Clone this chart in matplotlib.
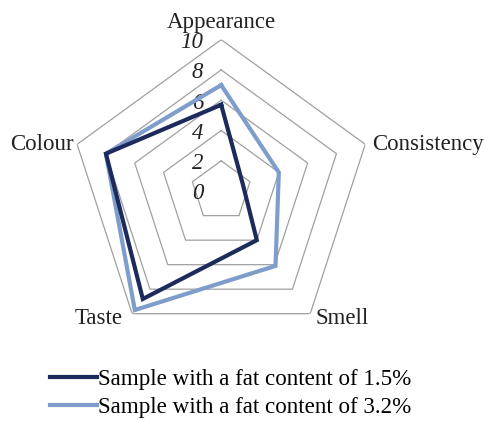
import numpy as np
import matplotlib.pyplot as plt

plt.rcParams['font.family'] = ['Liberation Serif', 'DejaVu Serif']

# sensory attributes, clockwise from the top
categories = ['Appearance', 'Consistency', 'Smell', 'Taste', 'Colour']
fat_15 = [5.7, 1.5, 4.0, 8.8, 8.0]
fat_32 = [7.0, 4.0, 6.1, 9.7, 8.0]
series_names = ['Sample with a fat content of 1.5%',
                'Sample with a fat content of 3.2%']
ring_values = [0, 2, 4, 6, 8, 10]

n = len(categories)
theta = np.linspace(0, 2*np.pi, n, endpoint=False)
theta_closed = np.append(theta, theta[0])


def closed(values):
    return np.append(values, values[0])


fig = plt.figure(figsize=(4.84, 4.21), dpi=100)
ax = fig.add_axes([0.144, 0.186, 0.626, 0.72], projection='polar')
ax.set_theta_offset(np.pi/2)
ax.set_theta_direction(-1)
ax.set_ylim(0, 10)
ax.set_xticks([])
ax.set_yticks([])
ax.grid(False)
ax.spines['polar'].set_visible(False)
ax.patch.set_visible(False)

# pentagon rings
for r in ring_values[1:]:
    ax.plot(theta_closed, [r]*(n+1), color='#a0a0a0', lw=0.9, zorder=1)

# value labels along the top axis
for r in ring_values:
    ax.annotate(str(r), xy=(0, r), xytext=(-13, -2), textcoords='offset points',
                ha='right', va='center', fontsize=16.5, style='italic',
                color='#222222')

p2, = ax.plot(theta_closed, closed(fat_32), color='#7f9dcb', lw=3,
              solid_joinstyle='miter', zorder=3)
p1, = ax.plot(theta_closed, closed(fat_15), color='#1c2a5c', lw=3,
              solid_joinstyle='miter', zorder=4)

# category labels, offset (points) from the outer ring's corners
label_pos = [((0, 8.6), 'center', 'baseline'),
             ((4.6, 0), 'left', 'center'),
             ((3.6, -3.6), 'left', 'center'),
             ((-7.2, -3.6), 'right', 'center'),
             ((-2.2, 0), 'right', 'center')]
for t, name, (off, ha, va) in zip(theta, categories, label_pos):
    ax.annotate(name, xy=(t, 10), xytext=off, textcoords='offset points',
                ha=ha, va=va, fontsize=16.5, color='#222222')

fig.legend((p1, p2), series_names, loc='upper left',
           bbox_to_anchor=(0.103, 0.123), frameon=False, fontsize=16.6,
           handlelength=2.05, handletextpad=0.05, borderpad=0,
           borderaxespad=0, labelspacing=0.28)

plt.savefig('out.png', dpi=100)
